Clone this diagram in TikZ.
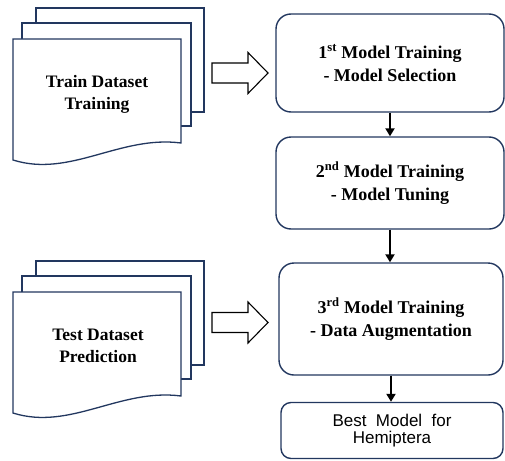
\documentclass[tikz,border=0pt]{standalone}
\usepackage{fontspec}
\setmainfont{Liberation Serif}
\newfontfamily\stageserif{Liberation Serif}
\newfontfamily\labelsans{Liberation Sans}
\newcommand\widespaces{\spaceskip=0.55em\relax}
\usetikzlibrary{arrows.meta}
\definecolor{navy}{HTML}{22375F}
\tikzset{
  sheet/.style={draw=navy, line width=1.3pt, fill=white},
  stagebox/.style={draw=navy, line width=1.4pt, rounded corners=15pt, fill=white,
    align=center, font=\stageserif\bfseries\fontsize{18}{23}\selectfont},
  resultbox/.style={draw=navy, line width=1.4pt, rounded corners=10pt, fill=white,
    align=center, font=\labelsans\fontsize{17}{17}\selectfont},
  doclabel/.style={align=center, font=\stageserif\bfseries\fontsize{17.5}{22}\selectfont},
  blockarrow/.style={draw=black, line width=1.1pt, fill=white, line join=miter},
  flow/.style={draw=black, line width=2pt, -{Triangle[width=9pt,length=8pt]}},
}
\begin{document}
\begin{tikzpicture}[x=1pt, y=-1pt]
\useasboundingbox (0,0) rectangle (505,460);

% stacked document sheets, drawn back to front
\foreach \dy in {0, 253}{
  \begin{scope}[yshift=-\dy pt]
    \draw[sheet] (36,8) rectangle (204,112);
    \draw[sheet] (22,23) rectangle (191,126);
    \draw[sheet] (13,39) -- (181,39) -- (181,143)
      .. controls (120,135) and (70,178) .. (13,160) -- cycle;
  \end{scope}
}
\node[doclabel] (train) at (97,94) {Train Dataset\\Training};
\node[doclabel] (test) at (98,346) {Test Dataset\\Prediction};

% training stages
\node[stagebox, minimum width=228pt, minimum height=98pt] (s1) at (390,63)
  {1\textsuperscript{st} Model Training\\- Model Selection};
\node[stagebox, minimum width=228pt, minimum height=92pt] (s2) at (390,183)
  {2\textsuperscript{nd} Model Training\\- Model Tuning};
\node[stagebox, minimum width=224pt, minimum height=112pt] (s3) at (391,319)
  {3\textsuperscript{rd} Model Training\\- Data Augmentation};
\node[resultbox, minimum width=222pt, minimum height=56pt] (best) at (392,430.5)
  {\widespaces Best Model for\\Hemiptera};

% hollow arrows from the datasets into the stages
\coordinate (a1) at (212,73);
\coordinate (a2) at (212,322.5);
\foreach \c in {a1, a2}{
  \draw[blockarrow] ([shift={(0,-10)}]\c) -- ++(36,0) -- ++(0,-10.5)
    -- ++(20,20.5) -- ++(-20,20.5) -- ++(0,-10.5) -- ++(-36,0) -- cycle;
}

% flow between stages
\draw[flow] (s1.south) -- (s1.south |- s2.north);
\draw[flow] (s2.south) -- (s2.south |- s3.north);
\draw[flow] (s3.south) -- (s3.south |- best.north);
\end{tikzpicture}
\end{document}
